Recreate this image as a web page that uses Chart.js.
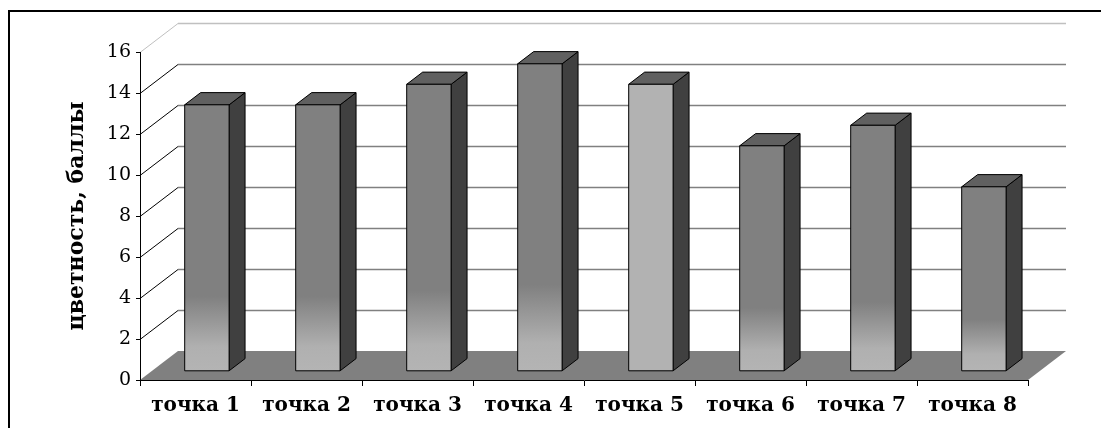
<!doctype html>
<html lang="ru">
<head>
<meta charset="utf-8">
<title>Цветность по точкам</title>
<script src="https://cdn.jsdelivr.net/npm/chart.js@4.4.1/dist/chart.umd.min.js"></script>
<style>
  html, body { margin: 0; padding: 0; background: #fff; }
  canvas { display: block; }
</style>
</head>
<body>
<canvas id="chart" width="1101" height="428"></canvas>
<script>
  const points = ["точка 1", "точка 2", "точка 3", "точка 4", "точка 5", "точка 6", "точка 7", "точка 8"];
  const colorfulness = [13, 13, 14, 15, 14, 11, 12, 9];
  const yTicks = [0, 2, 4, 6, 8, 10, 12, 14, 16];

  // pseudo-3D depth of the plot box and where the columns sit inside it
  const DX = 38, DY = -29;
  const FRONT = 0.30, BACK = 0.72;
  const lightBar = 4; // column drawn in plain light grey

  function poly(ctx, pts, fill) {
    ctx.beginPath();
    ctx.moveTo(pts[0][0], pts[0][1]);
    for (let i = 1; i < pts.length; i++) ctx.lineTo(pts[i][0], pts[i][1]);
    ctx.closePath();
    ctx.fillStyle = fill;
    ctx.fill();
    ctx.stroke();
  }

  const box3d = {
    id: "box3d",
    beforeDraw(chart) {
      const { ctx, chartArea: a } = chart;
      const y = chart.scales.y;
      ctx.save();
      ctx.fillStyle = "#fff";
      ctx.fillRect(0, 0, chart.width, chart.height);

      // outer frame
      ctx.strokeStyle = "#000";
      ctx.lineWidth = 2;
      ctx.beginPath();
      ctx.moveTo(9, chart.height);
      ctx.lineTo(9, 11);
      ctx.lineTo(chart.width, 11);
      ctx.stroke();

      // floor
      const y0 = y.getPixelForValue(0);
      ctx.fillStyle = "#808080";
      ctx.beginPath();
      ctx.moveTo(a.left, y0);
      ctx.lineTo(a.right, y0);
      ctx.lineTo(a.right + DX, y0 + DY);
      ctx.lineTo(a.left + DX, y0 + DY);
      ctx.closePath();
      ctx.fill();

      // side wall diagonals and back wall gridlines
      yTicks.forEach(v => {
        if (v === 0) return;
        const py = Math.round(y.getPixelForValue(v)) + 0.5;
        const top = v === yTicks[yTicks.length - 1];
        ctx.lineWidth = 1;
        ctx.strokeStyle = top ? "#c0c0c0" : "#000";
        ctx.beginPath();
        ctx.moveTo(a.left, py);
        ctx.lineTo(a.left + DX, py + DY);
        ctx.stroke();
        ctx.strokeStyle = top ? "#c0c0c0" : "#808080";
        ctx.lineWidth = 1.5;
        ctx.beginPath();
        ctx.moveTo(a.left + DX, py + DY);
        ctx.lineTo(a.right + DX, py + DY);
        ctx.stroke();
      });
      ctx.restore();
    },
    afterDatasetsDraw(chart) {
      const { ctx } = chart;
      const meta = chart.getDatasetMeta(0);
      const ox = DX * FRONT, oy = DY * FRONT;
      const sx = DX * (BACK - FRONT), sy = DY * (BACK - FRONT);
      ctx.save();
      ctx.strokeStyle = "#000";
      ctx.lineWidth = 1;
      ctx.lineJoin = "round";
      meta.data.forEach((bar, i) => {
        const { x, y, base, width } = bar.getProps(["x", "y", "base", "width"], true);
        const l = x - width / 2 + ox, r = x + width / 2 + ox;
        const t = y + oy, b = base + oy;
        poly(ctx, [[r, t], [r + sx, t + sy], [r + sx, b + sy], [r, b]], "#404040");
        poly(ctx, [[l, t], [r, t], [r + sx, t + sy], [l + sx, t + sy]], "#606060");
        let face = "#b2b2b2";
        if (i !== lightBar) {
          face = ctx.createLinearGradient(0, b, 0, t);
          face.addColorStop(0, "#b4b4b4");
          face.addColorStop(0.09, "#b0b0b0");
          face.addColorStop(0.28, "#808080");
          face.addColorStop(1, "#808080");
        }
        poly(ctx, [[l, t], [r, t], [r, b], [l, b]], face);
      });
      ctx.restore();
    }
  };

  new Chart(document.getElementById("chart").getContext("2d"), {
    type: "bar",
    data: {
      labels: points,
      datasets: [{
        label: "цветность",
        data: colorfulness,
        backgroundColor: "rgba(0,0,0,0)",
        borderWidth: 0,
        categoryPercentage: 1,
        barPercentage: 0.4
      }]
    },
    options: {
      responsive: false,
      animation: false,
      devicePixelRatio: 1,
      events: [],
      layout: { padding: { left: 0, top: 52, right: 73, bottom: 0 } },
      plugins: { legend: { display: false }, tooltip: { enabled: false } },
      scales: {
        x: {
          afterFit(scale) { scale.height = 48; },
          grid: { offset: true, drawOnChartArea: false, tickLength: 6, color: "#000" },
          border: { color: "#000", width: 1 },
          ticks: {
            color: "#000",
            padding: 8,
            maxRotation: 0,
            font: { family: "DejaVu Serif", size: 20, weight: "bold" }
          }
        },
        y: {
          min: 0,
          max: 16,
          afterFit(scale) { scale.width = 140; },
          afterBuildTicks(scale) { scale.ticks = yTicks.map(v => ({ value: v })); },
          grid: { drawOnChartArea: false, tickLength: 4, color: "#000" },
          border: { color: "#000", width: 1 },
          ticks: {
            color: "#000",
            padding: 5,
            font: { family: "DejaVu Serif", size: 19 }
          },
          title: {
            display: true,
            text: "цветность, баллы",
            color: "#000",
            padding: { top: 64, bottom: 0 },
            font: { family: "DejaVu Serif", size: 22, weight: "bold" }
          }
        }
      }
    },
    plugins: [box3d]
  });
</script>
</body>
</html>
